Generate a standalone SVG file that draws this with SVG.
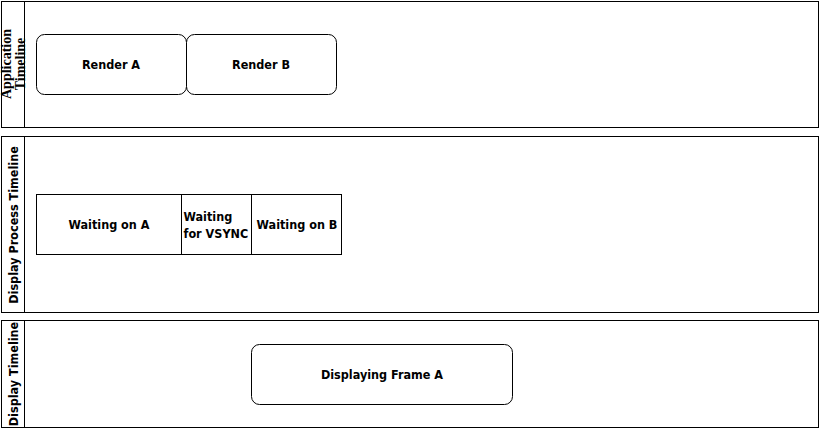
<svg xmlns="http://www.w3.org/2000/svg" width="822" height="431" viewBox="0 0 822 431">
<style>
.lane{fill:#fff;stroke:#000;stroke-width:1}
.box{fill:#fff;stroke:#000;stroke-width:1}
text{font-family:"DejaVu Sans Condensed","DejaVu Sans",sans-serif;font-weight:bold;font-size:12.5px;fill:#000}
.serif{font-family:"Liberation Serif","Times New Roman",serif;font-size:14px;font-weight:bold}
.c{text-anchor:middle}
</style>
<rect width="822" height="431" fill="#fff"/>
<g id="lane-application">
<rect class="lane" x="1.5" y="1.5" width="817" height="126"/>
<line x1="24.5" y1="1.5" x2="24.5" y2="127.5" stroke="#000"/>
<text class="c serif" transform="translate(10.5,64) rotate(-90)">Application</text>
<text class="c serif" transform="translate(24.5,64) rotate(-90)">Timeline</text>
</g>
<g id="lane-display-process">
<rect class="lane" x="1.5" y="136.5" width="817" height="176"/>
<line x1="24.5" y1="136.5" x2="24.5" y2="312.5" stroke="#000"/>
<text class="c" transform="translate(18,225) rotate(-90)">Display Process Timeline</text>
</g>
<g id="lane-display">
<rect class="lane" x="1.5" y="320.5" width="817" height="107"/>
<line x1="24.5" y1="320.5" x2="24.5" y2="427.5" stroke="#000"/>
<text class="c" transform="translate(18,374) rotate(-90)">Display Timeline</text>
</g>
<g id="render-a">
<rect class="box" x="36.5" y="34.5" width="150" height="60" rx="8"/>
<text class="c" x="111" y="69">Render A</text>
</g>
<g id="render-b">
<rect class="box" x="186.5" y="34.5" width="150" height="60" rx="8"/>
<text class="c" x="261" y="69">Render B</text>
</g>
<g id="waiting-a">
<rect class="box" x="36.5" y="194.5" width="145" height="60"/>
<text class="c" x="109" y="229">Waiting on A</text>
</g>
<g id="waiting-vsync">
<rect class="box" x="181.5" y="194.5" width="70" height="60"/>
<text x="183.5" y="221">Waiting</text>
<text x="183.5" y="238">for VSYNC</text>
</g>
<g id="waiting-b">
<rect class="box" x="251.5" y="194.5" width="90" height="60"/>
<text class="c" x="297" y="229">Waiting on B</text>
</g>
<g id="displaying-a">
<rect class="box" x="251.5" y="344.5" width="261" height="60" rx="8"/>
<text class="c" x="382" y="379">Displaying Frame A</text>
</g>
<g id="connectors"></g>
</svg>
